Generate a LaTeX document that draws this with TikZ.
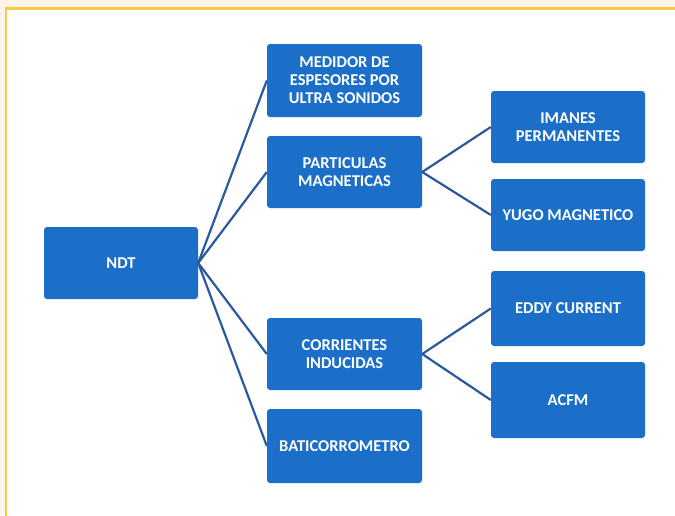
\documentclass[tikz,border=0pt]{standalone}
\usepackage{fontspec}
\setmainfont{Carlito}
\definecolor{boxblue}{HTML}{1C6FC9}
\definecolor{linkblue}{HTML}{2B5A9C}
\definecolor{frameyellow}{HTML}{FFC93F}
\definecolor{cream}{HTML}{FDF3E8}
\begin{document}
\begin{tikzpicture}[x=1pt,y=-1pt,
  box/.style={draw=none,fill=boxblue,rounded corners=3pt,text=white,
    font=\fontsize{16.5}{18}\selectfont\bfseries,align=center,
    minimum width=155pt,minimum height=73pt,inner sep=0pt},
  link/.style={draw=linkblue,line width=2.2pt}]
\useasboundingbox (0,0) rectangle (675,515);
\fill[cream] (0,0) rectangle (675,515);
\filldraw[fill=white,draw=frameyellow,line width=2.2pt] (6,8.5) rectangle (685,525);
\node[box,minimum width=154pt,minimum height=72pt] (ndt) at (121,263) {NDT};
\node[box] (med) at (344.5,80.5) {MEDIDOR DE\\ESPESORES POR\\ULTRA SONIDOS};
\node[box,minimum height=72pt] (par) at (344.5,172) {PARTICULAS\\MAGNETICAS};
\node[box,minimum height=72pt] (cor) at (344.5,354) {CORRIENTES\\INDUCIDAS};
\node[box,minimum height=74pt] (bat) at (344.5,446) {BATICORROMETRO};
\node[box,minimum width=154pt,minimum height=72pt] (ima) at (568,127) {IMANES\\PERMANENTES};
\node[box,minimum width=154pt,minimum height=72pt] (yug) at (568,215) {YUGO MAGNETICO};
\node[box,minimum width=154pt,minimum height=75pt] (edd) at (568,308.5) {EDDY CURRENT};
\node[box,minimum width=154pt,minimum height=76pt] (acf) at (568,400) {ACFM};
\foreach \t in {med,par,cor,bat} \draw[link] (ndt.east) -- (\t.west);
\foreach \t in {ima,yug} \draw[link] (par.east) -- (\t.west);
\foreach \t in {edd,acf} \draw[link] (cor.east) -- (\t.west);
\end{tikzpicture}
\end{document}
